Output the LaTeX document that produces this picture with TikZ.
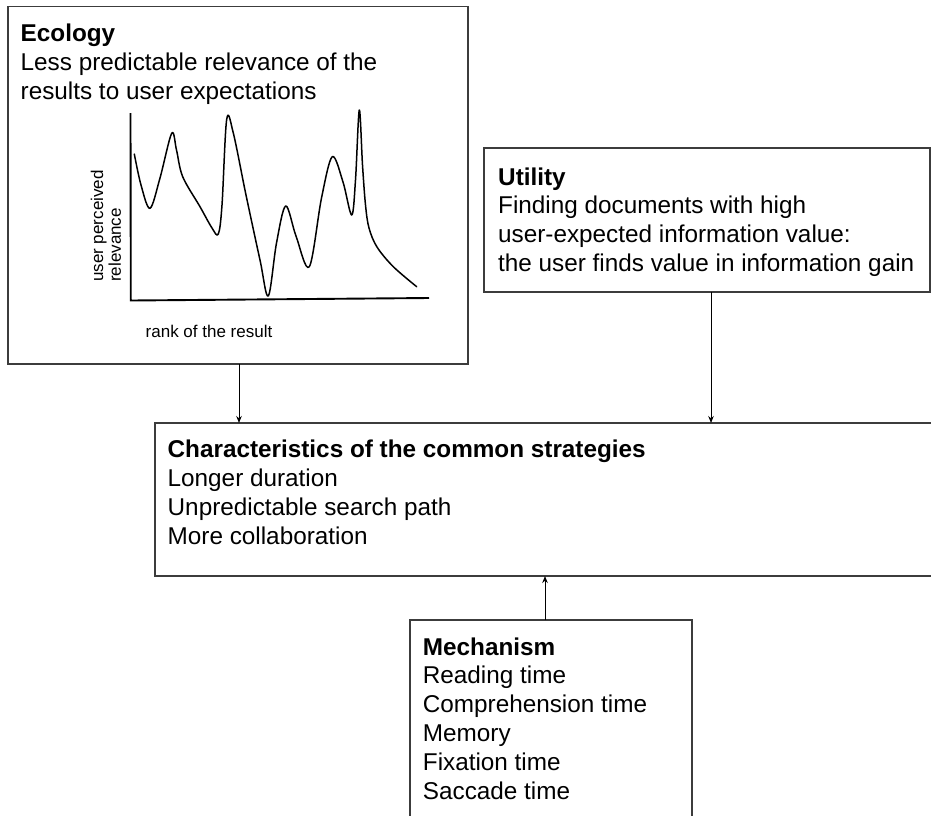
\documentclass[tikz,border=0pt]{standalone}
\usepackage{fontspec}
\setmainfont{Liberation Sans}
\usetikzlibrary{arrows.meta}
\definecolor{boxgray}{RGB}{60,60,60}
\tikzset{
  box/.style={draw=boxgray, line width=1.3pt, anchor=north west, inner sep=0pt, outer sep=0pt},
  boxtext/.style={anchor=north west, inner sep=0pt, align=left, font=\fontsize{24.3}{28.8}\selectfont},
  smalltext/.style={inner sep=0pt, font=\fontsize{17}{15.5}\selectfont},
  conn/.style={draw=black, line width=1pt, -{Stealth[length=7pt,width=5.5pt]}},
  axis/.style={line width=1.9pt, line join=miter},
  curve/.style={line width=1.5pt, line join=round, line cap=round}
}
\begin{document}
\begin{tikzpicture}[x=1pt,y=-1pt]
\useasboundingbox (0,0) rectangle (931,815);
\clip (0,0) rectangle (931,815);
\fill[white] (0,0) rectangle (931,815);

% frames
\node[box, minimum width=460pt, minimum height=357.5pt] (eco) at (8,6.5) {};
\node[box, minimum width=446pt, minimum height=144pt] (util) at (484,148) {};
\node[box, minimum width=805pt, minimum height=153pt] (chars) at (155,423) {};
\node[box, minimum width=282pt, minimum height=230pt] (mech) at (410,620) {};

% frame texts
\node[boxtext] (ecot) at (20.5,21.5) {\strut\textbf{Ecology}\\Less predictable relevance of the\\results to user expectations};
\node[boxtext] (utilt) at (498,164.8) {\strut\textbf{Utility}\\Finding documents with high\\user-expected information value:\\the user finds value in information gain};
\node[boxtext] (charst) at (167.5,437.3) {\strut\textbf{Characteristics of the common strategies}\\Longer duration\\Unpredictable search path\\More collaboration};
\node[boxtext] (mecht) at (422.7,634.8) {\strut\textbf{Mechanism}\\Reading time\\Comprehension time\\Memory\\Fixation time\\Saccade time};

% relevance chart
\draw[axis] (130.5,113) -- (130.8,300.5) -- (429,298);
\draw[curve] plot[smooth, tension=0.55] coordinates {
  (134.3,154) (141,185) (150,208.3) (160,178) (171.7,133.3) (176.5,150)
  (182.7,176.7) (200,206.7) (212,228) (218.3,234) (222,205) (226.7,119.3)
  (233.3,133) (246,195) (260,260) (268.3,296) (276.5,243) (285.7,206)
  (296,236) (309.3,266.7) (321.5,198) (332.3,156.7) (343,182) (351.7,215)
  (355.5,180) (359.3,110) (362.5,165) (365.5,205) (369,228) (377,247)
  (393.3,266.7) (416.7,286.7)};
\node[smalltext, rotate=90, anchor=north west, align=left] (ylab) at (90.5,282) {\strut user perceived\\relevance};
\node[smalltext, anchor=base] (xlab) at (209,337) {rank of the result};

% connectors
\coordinate (a1) at (239,0);
\coordinate (a2) at (711,0);
\coordinate (a3) at (545,0);
\draw[conn] (eco.south -| a1) -- (chars.north -| a1);
\draw[conn] (util.south -| a2) -- (chars.north -| a2);
\draw[conn] (mech.north -| a3) -- (chars.south -| a3);
\end{tikzpicture}
\end{document}
